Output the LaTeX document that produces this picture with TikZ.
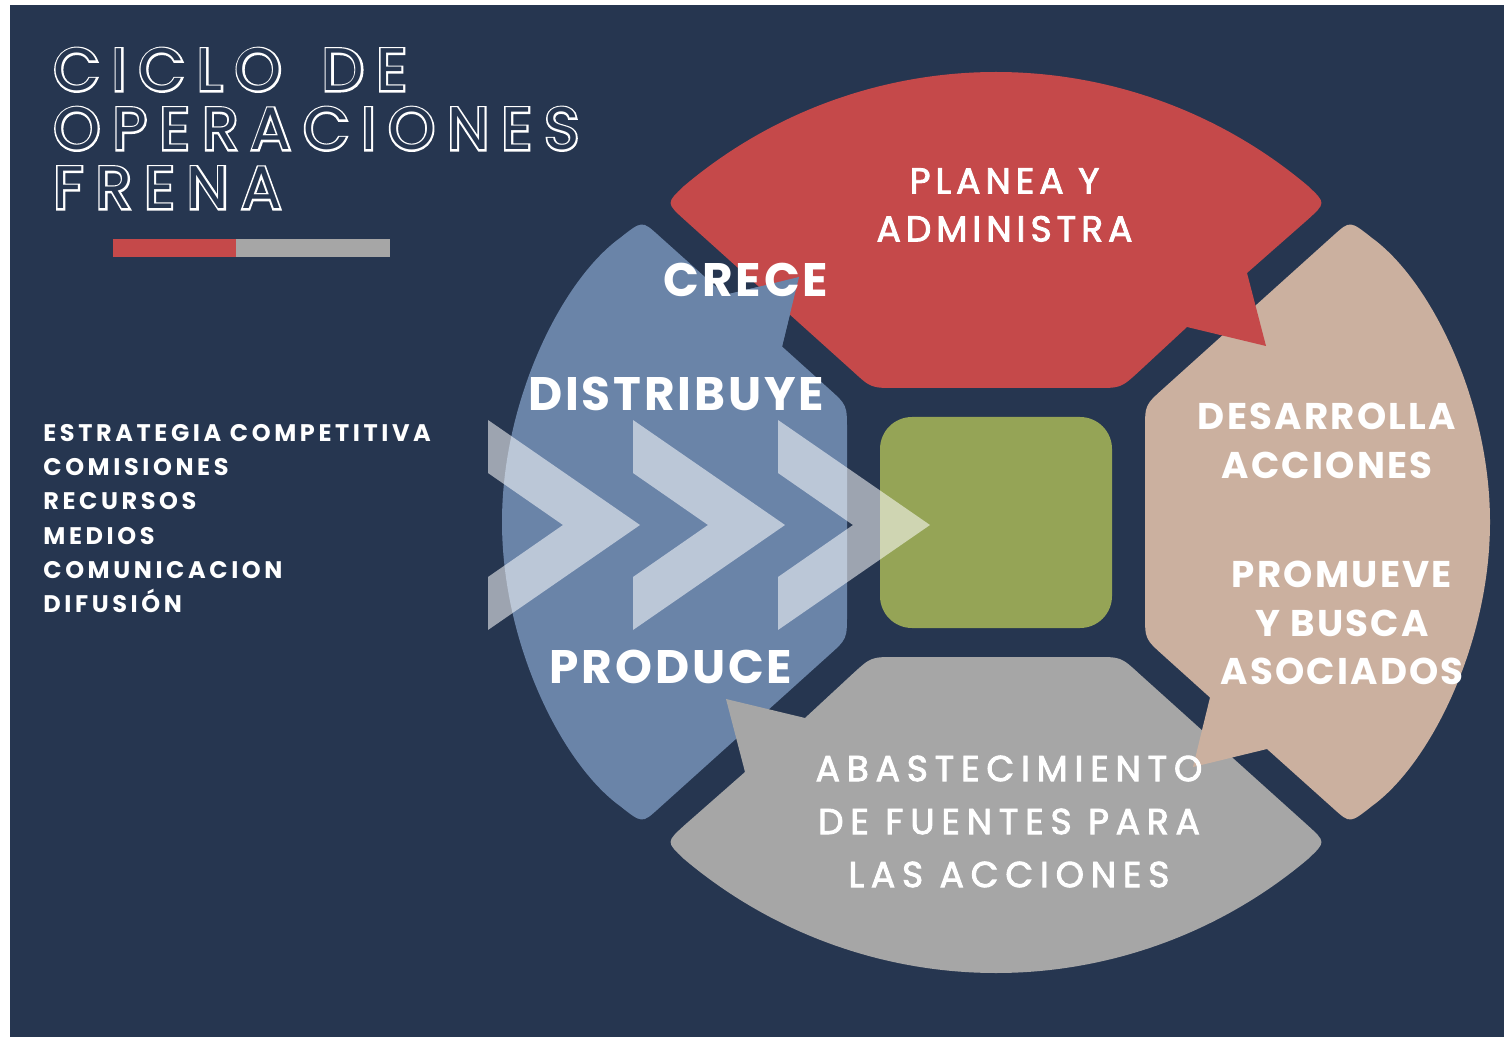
\documentclass[tikz,border=0pt]{standalone}
\usepackage{fontspec}
\setmainfont{Poppins}
\newfontfamily\titlefont{Poppins}[FakeBold=6, LetterSpace=20]
\newfontfamily\plainfont{Poppins}[LetterSpace=20]
\newfontfamily\spacedfont{Poppins}[LetterSpace=6]
\newfontfamily\redfont{Poppins}[LetterSpace=14, FakeBold=2.5]
\newfontfamily\grayfont{Poppins}[LetterSpace=19, FakeBold=2.5]
\newfontfamily\listfont{Poppins}[LetterSpace=15]
\usetikzlibrary{positioning,calc}

\definecolor{bgnavy}{HTML}{263650}
\definecolor{petalred}{HTML}{C5494A}
\definecolor{petalblue}{HTML}{6A84A8}
\definecolor{petaltan}{HTML}{CBB09F}
\definecolor{petalgray}{HTML}{A6A6A6}
\definecolor{boxgreen}{HTML}{95A456}

% outline of the top bubble (red), turned round for the bottom one
\def\topbubble{(684.5,219.8) -- (852.5,371) .. controls (871,388) .. (896,388) -- (1096,388)
	.. controls (1121,388) .. (1139.5,371) -- (1187,327) -- (1266,346) -- (1247,273) -- (1307.5,219.8)
	.. controls (1326,203) .. (1308,186) .. controls (1220.8,112.4) and (1110.1,72) .. (996,72)
	.. controls (881.9,72) and (771.2,112.4) .. (684,186) .. controls (666,203) .. (684.5,219.8) -- cycle}
% outline of the right bubble (tan), turned round for the left one
\def\sidebubble{(1163.6,388.3) -- (1333.7,235.2) .. controls (1350,220.5) .. (1372,238)
	.. controls (1430,280) and (1490,400) .. (1490,522) .. controls (1490,644) and (1430,764) .. (1372,806)
	.. controls (1350,823.5) .. (1333.7,808.8) -- (1267,749) -- (1193,767) -- (1210,697.5) -- (1163.6,655.7)
	.. controls (1145,639) .. (1145,614) -- (1145,430) .. controls (1145,405) .. (1163.6,388.3) -- cycle}

\begin{document}
\begin{tikzpicture}[x=0.5pt, y=-0.5pt,
	lbl/.style={text=white, inner sep=0pt},
	big/.style={lbl, font=\spacedfont\bfseries\fontsize{23.5}{28}\selectfont},
	tanlbl/.style={lbl, align=center, font=\spacedfont\bfseries\fontsize{18.6}{24.25}\selectfont},
	midlbl/.style={lbl, align=center, font=\redfont\fontsize{18}{24}\selectfont}]

\fill[white] (0,0) rectangle (1504,1037);
\fill[bgnavy] (10,5) rectangle (1504,1037);

% title
\node[lbl, anchor=north west, align=left, font=\titlefont\fontsize{30}{29.5}\selectfont] (titleout) at (53,48) {CICLO \kern6pt DE\\OPERACIONES\\FRENA};
\node[lbl, text=bgnavy, anchor=north west, align=left, font=\plainfont\fontsize{30}{29.5}\selectfont] (title) at (titleout.north west) {CICLO \kern6pt DE\\OPERACIONES\\FRENA};
\fill[petalred] (113,239) rectangle (236,257);
\fill[petalgray] (236,239) rectangle (390,257);

\node[lbl, anchor=north west, align=left, font=\listfont\bfseries\fontsize{12}{17.1}\selectfont] (list) at (43,424)
	{ESTRATEGIA COMPETITIVA\\COMISIONES\\RECURSOS\\MEDIOS\\COMUNICACION\\DIFUSIÓN};

% bubbles
\fill[petalblue, rotate around={180:(996,522)}] \sidebubble;
\fill[petalgray, rotate around={180:(996,522.5)}] \topbubble;
\fill[petaltan] \sidebubble;
\fill[petalred] \topbubble;
\fill[petalblue] (725,295) -- (799,277) -- (782,346.5) -- cycle;

\fill[boxgreen, rounded corners=16pt] (880,417) rectangle (1112,628);

% chevrons
\foreach \i in {0,1,2}
	\fill[white, opacity=0.55, shift={(\i*145,0)}] (488,420) -- (640,525) -- (488,630) -- (488,577) -- (563,525) -- (488,473) -- cycle;

\node[big] (crece) at (746,280) {CRECE};
\node[big] (distribuye) at (676,394) {DISTRIBUYE};
\node[big] (produce) at (671,667) {PRODUCE};
\node[midlbl] (planea) at (1004.5,205) {PLANEA Y\\ADMINISTRA};
\node[tanlbl] (desarrolla) at (1327,441) {DESARROLLA\\ACCIONES};
\node[tanlbl] (promueve) at (1342,623) {PROMUEVE\\Y BUSCA\\ASOCIADOS};
\node[midlbl, font=\grayfont\fontsize{18}{26.5}\selectfont] (abastece) at (1009,821.5) {ABASTECIMIENTO\\DE FUENTES PARA\\LAS ACCIONES};

\end{tikzpicture}
\end{document}
